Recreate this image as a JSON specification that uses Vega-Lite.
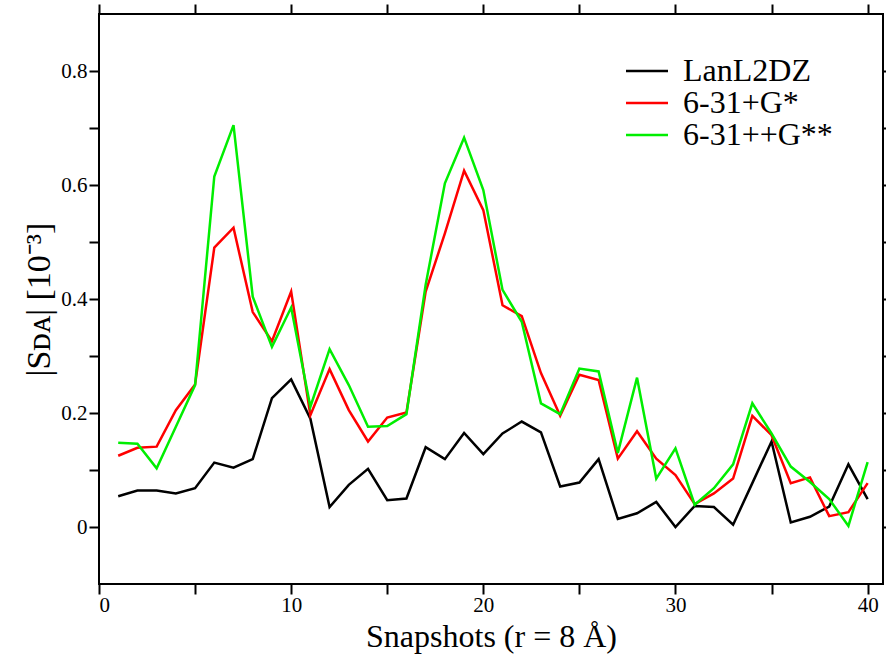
{
  "$schema": "https://vega.github.io/schema/vega-lite/v6.json",
  "width": 784,
  "height": 570,
  "autosize": {"type": "none"},
  "padding": {"left": 99, "top": 14, "right": 3, "bottom": 74},
  "background": "white",
  "config": {
    "view": {"stroke": "black", "strokeWidth": 2},
    "axis": {"labelFont": "Liberation Serif", "titleFont": "Liberation Serif", "ticks": true, "tickColor": "black"},
    "legend": {"labelFont": "Liberation Serif"}
  },
  "data": {"values": [
    {"x":1,"s":"LanL2DZ","v":0.054},{"x":2,"s":"LanL2DZ","v":0.064},{"x":3,"s":"LanL2DZ","v":0.064},{"x":4,"s":"LanL2DZ","v":0.059},{"x":5,"s":"LanL2DZ","v":0.068},
    {"x":6,"s":"LanL2DZ","v":0.113},{"x":7,"s":"LanL2DZ","v":0.104},{"x":8,"s":"LanL2DZ","v":0.119},{"x":9,"s":"LanL2DZ","v":0.226},{"x":10,"s":"LanL2DZ","v":0.259},
    {"x":11,"s":"LanL2DZ","v":0.19},{"x":12,"s":"LanL2DZ","v":0.035},{"x":13,"s":"LanL2DZ","v":0.074},{"x":14,"s":"LanL2DZ","v":0.102},{"x":15,"s":"LanL2DZ","v":0.047},
    {"x":16,"s":"LanL2DZ","v":0.05},{"x":17,"s":"LanL2DZ","v":0.14},{"x":18,"s":"LanL2DZ","v":0.119},{"x":19,"s":"LanL2DZ","v":0.165},{"x":20,"s":"LanL2DZ","v":0.128},
    {"x":21,"s":"LanL2DZ","v":0.164},{"x":22,"s":"LanL2DZ","v":0.185},{"x":23,"s":"LanL2DZ","v":0.166},{"x":24,"s":"LanL2DZ","v":0.071},{"x":25,"s":"LanL2DZ","v":0.078},
    {"x":26,"s":"LanL2DZ","v":0.119},{"x":27,"s":"LanL2DZ","v":0.014},{"x":28,"s":"LanL2DZ","v":0.024},{"x":29,"s":"LanL2DZ","v":0.044},{"x":30,"s":"LanL2DZ","v":0.0},
    {"x":31,"s":"LanL2DZ","v":0.037},{"x":32,"s":"LanL2DZ","v":0.035},{"x":33,"s":"LanL2DZ","v":0.004},{"x":34,"s":"LanL2DZ","v":0.077},{"x":35,"s":"LanL2DZ","v":0.15},
    {"x":36,"s":"LanL2DZ","v":0.008},{"x":37,"s":"LanL2DZ","v":0.018},{"x":38,"s":"LanL2DZ","v":0.036},{"x":39,"s":"LanL2DZ","v":0.11},{"x":40,"s":"LanL2DZ","v":0.049},
    {"x":1,"s":"6-31+G*","v":0.125},{"x":2,"s":"6-31+G*","v":0.139},{"x":3,"s":"6-31+G*","v":0.141},{"x":4,"s":"6-31+G*","v":0.205},{"x":5,"s":"6-31+G*","v":0.25},
    {"x":6,"s":"6-31+G*","v":0.49},{"x":7,"s":"6-31+G*","v":0.525},{"x":8,"s":"6-31+G*","v":0.377},{"x":9,"s":"6-31+G*","v":0.326},{"x":10,"s":"6-31+G*","v":0.413},
    {"x":11,"s":"6-31+G*","v":0.196},{"x":12,"s":"6-31+G*","v":0.277},{"x":13,"s":"6-31+G*","v":0.205},{"x":14,"s":"6-31+G*","v":0.15},{"x":15,"s":"6-31+G*","v":0.192},
    {"x":16,"s":"6-31+G*","v":0.201},{"x":17,"s":"6-31+G*","v":0.413},{"x":18,"s":"6-31+G*","v":0.515},{"x":19,"s":"6-31+G*","v":0.625},{"x":20,"s":"6-31+G*","v":0.556},
    {"x":21,"s":"6-31+G*","v":0.389},{"x":22,"s":"6-31+G*","v":0.37},{"x":23,"s":"6-31+G*","v":0.27},{"x":24,"s":"6-31+G*","v":0.195},{"x":25,"s":"6-31+G*","v":0.267},
    {"x":26,"s":"6-31+G*","v":0.258},{"x":27,"s":"6-31+G*","v":0.12},{"x":28,"s":"6-31+G*","v":0.168},{"x":29,"s":"6-31+G*","v":0.12},{"x":30,"s":"6-31+G*","v":0.091},
    {"x":31,"s":"6-31+G*","v":0.04},{"x":32,"s":"6-31+G*","v":0.059},{"x":33,"s":"6-31+G*","v":0.085},{"x":34,"s":"6-31+G*","v":0.195},{"x":35,"s":"6-31+G*","v":0.161},
    {"x":36,"s":"6-31+G*","v":0.077},{"x":37,"s":"6-31+G*","v":0.087},{"x":38,"s":"6-31+G*","v":0.019},{"x":39,"s":"6-31+G*","v":0.026},{"x":40,"s":"6-31+G*","v":0.077},
    {"x":1,"s":"6-31++G**","v":0.148},{"x":2,"s":"6-31++G**","v":0.146},{"x":3,"s":"6-31++G**","v":0.103},{"x":4,"s":"6-31++G**","v":0.176},{"x":5,"s":"6-31++G**","v":0.249},
    {"x":6,"s":"6-31++G**","v":0.615},{"x":7,"s":"6-31++G**","v":0.705},{"x":8,"s":"6-31++G**","v":0.404},{"x":9,"s":"6-31++G**","v":0.316},{"x":10,"s":"6-31++G**","v":0.385},
    {"x":11,"s":"6-31++G**","v":0.211},{"x":12,"s":"6-31++G**","v":0.312},{"x":13,"s":"6-31++G**","v":0.249},{"x":14,"s":"6-31++G**","v":0.176},{"x":15,"s":"6-31++G**","v":0.177},
    {"x":16,"s":"6-31++G**","v":0.198},{"x":17,"s":"6-31++G**","v":0.425},{"x":18,"s":"6-31++G**","v":0.603},{"x":19,"s":"6-31++G**","v":0.683},{"x":20,"s":"6-31++G**","v":0.591},
    {"x":21,"s":"6-31++G**","v":0.416},{"x":22,"s":"6-31++G**","v":0.36},{"x":23,"s":"6-31++G**","v":0.217},{"x":24,"s":"6-31++G**","v":0.198},{"x":25,"s":"6-31++G**","v":0.278},
    {"x":26,"s":"6-31++G**","v":0.273},{"x":27,"s":"6-31++G**","v":0.13},{"x":28,"s":"6-31++G**","v":0.262},{"x":29,"s":"6-31++G**","v":0.085},{"x":30,"s":"6-31++G**","v":0.138},
    {"x":31,"s":"6-31++G**","v":0.039},{"x":32,"s":"6-31++G**","v":0.068},{"x":33,"s":"6-31++G**","v":0.11},{"x":34,"s":"6-31++G**","v":0.217},{"x":35,"s":"6-31++G**","v":0.164},
    {"x":36,"s":"6-31++G**","v":0.106},{"x":37,"s":"6-31++G**","v":0.079},{"x":38,"s":"6-31++G**","v":0.049},{"x":39,"s":"6-31++G**","v":0.002},{"x":40,"s":"6-31++G**","v":0.114}
  ]},
  "layer": [
    {
      "mark": {"type": "line", "strokeWidth": 2.5, "clip": true},
      "encoding": {
        "x": {
          "field": "x", "type": "quantitative",
          "scale": {"domain": [0, 40.8], "nice": false, "zero": false},
          "axis": {
            "orient": "bottom", "values": [0, 5, 10, 15, 20, 25, 30, 35, 40],
            "domain": false, "grid": false, "ticks": true, "tickColor": "black", "tickWidth": 2, "tickSize": 10,
            "labelExpr": "datum.value % 10 === 0 ? datum.label : ''",
            "labelFont": "Liberation Serif", "labelFontSize": 21, "labelColor": "black", "labelPadding": 0,
            "title": "Snapshots (r = 8 Å)", "titleFont": "Liberation Serif", "titleFontSize": 32,
            "titleFontWeight": "normal", "titleColor": "black", "titlePadding": 6,
            "encode": {
              "ticks": {"update": {"stroke": {"value": "black"}, "strokeWidth": {"value": 2}}},
              "labels": {"update": {"font": {"value": "Liberation Serif"}, "fontSize": {"value": 21}}}
            }
          }
        },
        "y": {
          "field": "v", "type": "quantitative",
          "scale": {"domain": [-0.1, 0.9], "nice": false, "zero": false},
          "axis": {
            "orient": "left", "values": [0, 0.1, 0.2, 0.3, 0.4, 0.5, 0.6, 0.7, 0.8],
            "domain": false, "grid": false, "ticks": true, "tickColor": "black", "tickWidth": 2, "tickSize": 10,
            "labelExpr": "round(datum.value * 10) % 2 === 0 ? format(datum.value, '~g') : ''",
            "labelFont": "Liberation Serif", "labelFontSize": 21, "labelColor": "black", "labelPadding": 2,
            "title": "|Sᴅᴀ| [10⁻³]", "titleFont": "Liberation Serif", "titleFontSize": 34,
            "titleFontWeight": "normal", "titleColor": "black", "titlePadding": 4,
            "encode": {
              "ticks": {"update": {"stroke": {"value": "black"}, "strokeWidth": {"value": 2}}},
              "labels": {"update": {"font": {"value": "Liberation Serif"}, "fontSize": {"value": 21}}}
            }
          }
        },
        "color": {
          "field": "s", "type": "nominal",
          "scale": {"domain": ["LanL2DZ", "6-31+G*", "6-31++G**"], "range": ["#000000", "#ff0000", "#00ee00"]},
          "legend": {
            "orient": "none", "legendX": 532, "legendY": 41, "title": null,
            "symbolType": "M-3,0H3", "symbolSize": 196, "symbolStrokeWidth": 2.5,
            "labelFont": "Liberation Serif", "labelFontSize": 32, "labelColor": "black", "labelLimit": 300,
            "labelOffset": 20, "rowPadding": -6, "padding": 0,
            "encode": {"labels": {"update": {"font": {"value": "Liberation Serif"}, "fontSize": {"value": 32}}}}
          }
        }
      }
    },
    {
      "mark": {"type": "line", "opacity": 0},
      "encoding": {
        "x": {
          "field": "x", "type": "quantitative",
          "scale": {"domain": [0, 40.8], "nice": false, "zero": false},
          "axis": {
            "orient": "top", "values": [0, 5, 10, 15, 20, 25, 30, 35, 40],
            "domain": false, "grid": false, "labels": false, "title": null, "ticks": true, "tickColor": "black", "tickWidth": 2, "tickSize": 10,
            "encode": {"ticks": {"update": {"stroke": {"value": "black"}, "strokeWidth": {"value": 2}}}}
          }
        },
        "y": {
          "field": "v", "type": "quantitative",
          "scale": {"domain": [-0.1, 0.9], "nice": false, "zero": false},
          "axis": {
            "orient": "right", "values": [0, 0.1, 0.2, 0.3, 0.4, 0.5, 0.6, 0.7, 0.8],
            "domain": false, "grid": false, "labels": false, "title": null, "ticks": true, "tickColor": "black", "tickWidth": 2, "tickSize": 10,
            "encode": {"ticks": {"update": {"stroke": {"value": "black"}, "strokeWidth": {"value": 2}}}}
          }
        },
        "detail": {"field": "s", "type": "nominal"}
      }
    }
  ],
  "resolve": {"scale": {"x": "independent", "y": "independent"}}
}
